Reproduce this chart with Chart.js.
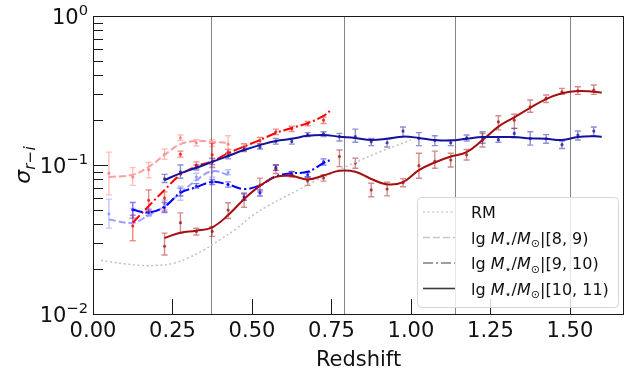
<!DOCTYPE html>
<html>
<head>
<meta charset="utf-8">
<script src="https://cdn.jsdelivr.net/npm/chart.js@4.4.1/dist/chart.umd.min.js"></script>
<style>
  html, body { margin: 0; padding: 0; background: #fff; }
  #wrap { width: 638px; height: 375px; }
</style>
</head>
<body>
<div id="wrap"><canvas id="c" width="638" height="375"></canvas></div>
<script>
// ---- redshift bins ----
const zBinsLow  = [0.05, 0.125, 0.175, 0.225, 0.275, 0.325, 0.375, 0.425];
const zBinsMid  = [0.125, 0.175, 0.225, 0.275, 0.325, 0.375, 0.425, 0.475, 0.525, 0.575, 0.625, 0.675, 0.725];
const zBinsHigh = [0.225, 0.275, 0.325, 0.375, 0.425, 0.475, 0.525, 0.575, 0.625, 0.675, 0.725,
                   0.775, 0.825, 0.875, 0.925, 0.975, 1.025, 1.075, 1.125, 1.175, 1.225,
                   1.275, 1.325, 1.375, 1.425, 1.475, 1.525, 1.575];

// ---- red sequence: lg M in [8,9) ----
const redLow      = [0.088, 0.083, 0.093, 0.118, 0.152, 0.141, 0.140, 0.138];
const redLowLo    = [0.063, 0.073, 0.082, 0.109, 0.146, 0.134, 0.133, 0.120];
const redLowHi    = [0.122, 0.096, 0.104, 0.128, 0.159, 0.148, 0.148, 0.157];
const redLowFit   = [0.083, 0.086, 0.097, 0.117, 0.138, 0.145, 0.143, 0.141];

// ---- blue cloud: lg M in [8,9) ----
const blueLow     = [0.047, 0.046, 0.048, 0.054, 0.065, 0.083, 0.090, 0.089];
const blueLowLo   = [0.0377, 0.041, 0.045, 0.050, 0.058, 0.079, 0.083, 0.086];
const blueLowHi   = [0.059, 0.051, 0.051, 0.058, 0.072, 0.088, 0.098, 0.093];
const blueLowFit  = [0.043, 0.041, 0.046, 0.053, 0.065, 0.079, 0.091, 0.086];

// ---- red sequence: lg M in [9,10) ----
const redMid      = [0.039, 0.058, 0.060, 0.118, 0.100, 0.117, 0.122, 0.132, 0.146, 0.167, 0.175, 0.189, 0.200];
const redMidLo    = [0.031, 0.049, 0.049, 0.113, 0.095, 0.096, 0.117, 0.125, 0.139, 0.160, 0.168, 0.183, 0.190];
const redMidHi    = [0.046, 0.068, 0.066, 0.124, 0.105, 0.140, 0.127, 0.139, 0.153, 0.174, 0.182, 0.196, 0.210];
const zFitMid     = [0.125, 0.175, 0.225, 0.275, 0.325, 0.375, 0.425, 0.475, 0.525, 0.575, 0.625, 0.675, 0.725, 0.75];
const redMidFit   = [0.041, 0.053, 0.068, 0.086, 0.098, 0.106, 0.120, 0.133, 0.147, 0.164, 0.177, 0.191, 0.214, 0.236];

// ---- blue cloud: lg M in [9,10) ----
const blueMid     = [0.050, 0.048, 0.052, 0.066, 0.072, 0.077, 0.074, 0.061, 0.065, 0.096, 0.087, 0.086, 0.105];
const blueMidLo   = [0.044, 0.046, 0.048, 0.062, 0.070, 0.074, 0.071, 0.058, 0.062, 0.092, 0.085, 0.083, 0.100];
const blueMidHi   = [0.056, 0.050, 0.056, 0.070, 0.075, 0.080, 0.077, 0.064, 0.068, 0.100, 0.090, 0.089, 0.110];
const blueMidFit  = [0.050, 0.048, 0.0525, 0.065, 0.071, 0.077, 0.074, 0.069, 0.073, 0.084, 0.088, 0.090, 0.103, 0.109];

// ---- red sequence: lg M in [10,11) ----
const redHigh     = [0.0285, 0.041, 0.0358, 0.0358, 0.0499, 0.059, 0.0734, 0.0935, 0.0866, 0.0782, 0.0818,
                     0.114, 0.103, 0.068, 0.069, 0.076, 0.099, 0.106, 0.108, 0.117, 0.147,
                     0.195, 0.200, 0.246, 0.280, 0.310, 0.314, 0.318];
const redHighLo   = [0.0249, 0.0349, 0.0339, 0.0332, 0.0437, 0.052, 0.066, 0.0877, 0.083, 0.073, 0.078,
                     0.0975, 0.095, 0.0612, 0.0621, 0.0714, 0.0814, 0.095, 0.097, 0.108, 0.132,
                     0.172, 0.176, 0.226, 0.263, 0.298, 0.298, 0.298];
const redHighHi   = [0.0349, 0.0477, 0.0376, 0.0385, 0.0558, 0.065, 0.0816, 0.100, 0.0905, 0.083, 0.086,
                     0.126, 0.111, 0.0755, 0.0766, 0.081, 0.120, 0.124, 0.120, 0.127, 0.163,
                     0.214, 0.219, 0.273, 0.295, 0.327, 0.335, 0.344];
const zFitHigh    = [0.225, 0.275, 0.325, 0.375, 0.425, 0.475, 0.525, 0.575, 0.625, 0.675, 0.725,
                     0.775, 0.825, 0.875, 0.925, 0.975, 1.025, 1.075, 1.125, 1.175, 1.225,
                     1.275, 1.325, 1.375, 1.425, 1.475, 1.525, 1.575, 1.6];
const redHighFit  = [0.0324, 0.0351, 0.0362, 0.0382, 0.0461, 0.059, 0.0724, 0.0832, 0.0845, 0.080, 0.085,
                     0.0915, 0.090, 0.0806, 0.0741, 0.0768, 0.0924, 0.104, 0.114, 0.122, 0.147,
                     0.181, 0.209, 0.242, 0.277, 0.303, 0.314, 0.310, 0.307];

// ---- blue cloud: lg M in [10,11) ----
const blueHigh    = [0.0807, 0.090, 0.0966, 0.105, 0.115, 0.127, 0.132, 0.144, 0.144, 0.160, 0.162,
                     0.155, 0.155, 0.143, 0.141, 0.169, 0.151, 0.146, 0.141, 0.152, 0.153,
                     0.148, 0.163, 0.150, 0.150, 0.137, 0.159, 0.169];
const blueHighLo  = [0.0763, 0.0815, 0.0925, 0.101, 0.110, 0.123, 0.128, 0.138, 0.138, 0.155, 0.155,
                     0.145, 0.142, 0.135, 0.132, 0.155, 0.135, 0.135, 0.135, 0.145, 0.140,
                     0.142, 0.152, 0.136, 0.140, 0.129, 0.147, 0.157];
const blueHighHi  = [0.0865, 0.100, 0.100, 0.111, 0.120, 0.132, 0.138, 0.151, 0.151, 0.165, 0.167,
                     0.163, 0.174, 0.151, 0.151, 0.180, 0.165, 0.157, 0.147, 0.159, 0.167,
                     0.155, 0.176, 0.167, 0.160, 0.145, 0.169, 0.180];
const blueHighFit = [0.0793, 0.0879, 0.0958, 0.105, 0.115, 0.126, 0.136, 0.145, 0.150, 0.157, 0.159,
                     0.155, 0.152, 0.147, 0.150, 0.155, 0.152, 0.147, 0.146, 0.150, 0.154,
                     0.154, 0.154, 0.151, 0.150, 0.147, 0.154, 0.156, 0.155];

// ---- red-sequence model scatter (RM) ----
const zRM  = [0.025, 0.05, 0.1, 0.15, 0.2, 0.25, 0.3, 0.35, 0.4, 0.45, 0.5, 0.55, 0.6, 0.65, 0.7, 0.75, 0.8, 0.85, 0.9, 0.95, 1.0];
const sigRM = [0.0229, 0.0225, 0.0217, 0.0212, 0.0212, 0.0218, 0.0238, 0.0270, 0.0316, 0.0372, 0.0455,
               0.0532, 0.0606, 0.0688, 0.0786, 0.0876, 0.0984, 0.110, 0.122, 0.134, 0.147];

// ---- filter-transition redshifts, axis ticks and legend text ----
const zEdges   = [0.37, 0.79, 1.14, 1.50];
const xTicks   = [0, 0.25, 0.5, 0.75, 1.0, 1.25, 1.5];
const yDecades = [0.01, 0.1, 1];
const massBins = ['[8, 9)', '[9, 10)', '[10, 11)'];

const FONT = '"DejaVu Sans", "Liberation Sans", sans-serif';
const pts = (xs, ys) => xs.map((x, i) => ({ x, y: ys[i] }));

function fitLine(xs, ys, color, dash) {
  return { type: 'line', data: pts(xs, ys), borderColor: color, borderWidth: 2,
           borderDash: dash, pointRadius: 0, tension: 0.4, fill: false };
}
function measured(xs, ys, lo, hi, color, errColor) {
  return { type: 'scatter', data: pts(xs, ys), errLo: lo, errHi: hi, errColor,
           pointRadius: 1.6, pointBorderWidth: 0, backgroundColor: color, showLine: false };
}

const DASH = [7, 3], DASHDOT = [10, 3, 2, 3], DOT = [2, 2.6];

const datasets = [
  fitLine(zFitHigh, blueHighFit, '#13139b', []),
  fitLine(zFitHigh, redHighFit, '#a50f0f', []),
  fitLine(zFitMid, blueMidFit, '#0000ff', DASHDOT),
  fitLine(zFitMid, redMidFit, '#ff0000', DASHDOT),
  fitLine(zBinsLow, blueLowFit, '#9e9eff', DASH),
  fitLine(zBinsLow, redLowFit, '#ff9e9e', DASH),
  Object.assign(fitLine(zRM, sigRM, '#c4c4c4', DOT), { borderWidth: 1.6 }),
  measured(zBinsHigh, blueHigh, blueHighLo, blueHighHi, 'rgba(20,20,160,0.75)', 'rgba(30,30,170,0.5)'),
  measured(zBinsHigh, redHigh, redHighLo, redHighHi, 'rgba(160,20,20,0.75)', 'rgba(170,25,25,0.5)'),
  measured(zBinsMid, blueMid, blueMidLo, blueMidHi, 'rgba(0,0,230,0.7)', 'rgba(0,0,230,0.5)'),
  measured(zBinsMid, redMid, redMidLo, redMidHi, 'rgba(230,0,0,0.7)', 'rgba(230,20,20,0.5)'),
  measured(zBinsLow, blueLow, blueLowLo, blueLowHi, 'rgba(90,90,255,0.5)', 'rgba(60,60,255,0.3)'),
  measured(zBinsLow, redLow, redLowLo, redLowHi, 'rgba(255,60,60,0.5)', 'rgba(255,40,40,0.3)')
];

// small rich-text helper: parts of {t, it, sub, sup}
function partFont(p, size) {
  const s = (p.sub || p.sup) ? size * 0.7 : size;
  return (p.it ? 'italic ' : '') + s.toFixed(1) + 'px ' + FONT;
}
function richWidth(ctx, parts, size) {
  let w = 0;
  parts.forEach(p => { ctx.font = partFont(p, size); w += ctx.measureText(p.t).width; });
  return w;
}
function drawRich(ctx, parts, x, y, size) {
  ctx.textBaseline = 'alphabetic';
  ctx.textAlign = 'left';
  parts.forEach(p => {
    ctx.font = partFont(p, size);
    const dy = p.sub ? size * 0.22 : (p.sup ? -size * 0.42 : 0);
    ctx.fillText(p.t, x, y + dy);
    x += ctx.measureText(p.t).width;
  });
  return x;
}

const underlay = {
  id: 'underlay',
  beforeDatasetsDraw(chart) {
    const { ctx, chartArea: a, scales: { x, y } } = chart;
    ctx.save();
    // filter transition markers
    ctx.strokeStyle = '#858585';
    ctx.lineWidth = 1;
    zEdges.forEach(z => {
      const px = Math.round(x.getPixelForValue(z)) + 0.5;
      ctx.beginPath(); ctx.moveTo(px, a.top); ctx.lineTo(px, a.bottom); ctx.stroke();
    });
    // error bars with caps
    chart.data.datasets.forEach(ds => {
      if (!ds.errLo) return;
      ctx.strokeStyle = ds.errColor;
      ctx.lineWidth = 1.4;
      ds.data.forEach((p, i) => {
        const px = x.getPixelForValue(p.x);
        const yl = y.getPixelForValue(ds.errLo[i]);
        const yh = y.getPixelForValue(ds.errHi[i]);
        ctx.beginPath();
        ctx.moveTo(px, yl); ctx.lineTo(px, yh);
        ctx.moveTo(px - 3, yl); ctx.lineTo(px + 3, yl);
        ctx.moveTo(px - 3, yh); ctx.lineTo(px + 3, yh);
        ctx.stroke();
      });
    });
    ctx.restore();
  }
};

const frame = {
  id: 'frame',
  afterDraw(chart) {
    const { ctx, chartArea: a, scales: { x, y } } = chart;
    ctx.save();
    ctx.strokeStyle = '#1a1a1a';
    ctx.lineWidth = 1;
    // inward ticks
    ctx.beginPath();
    xTicks.forEach(v => {
      const px = Math.round(x.getPixelForValue(v)) + 0.5;
      ctx.moveTo(px, a.bottom); ctx.lineTo(px, a.bottom - 15);
    });
    yDecades.forEach((d, k) => {
      const py = Math.round(y.getPixelForValue(d)) + 0.5;
      ctx.moveTo(a.left, py); ctx.lineTo(a.left + 15, py);
      if (k < yDecades.length - 1) {
        for (let m = 2; m <= 9; m++) {
          const qy = Math.round(y.getPixelForValue(d * m)) + 0.5;
          ctx.moveTo(a.left, qy); ctx.lineTo(a.left + 10, qy);
        }
      }
    });
    ctx.stroke();
    // spines
    ctx.strokeRect(a.left + 0.5, a.top + 0.5, a.right - a.left - 1, a.bottom - a.top);

    // tick labels
    ctx.fillStyle = '#111';
    ctx.font = '21px ' + FONT;
    ctx.textAlign = 'center';
    ctx.textBaseline = 'alphabetic';
    xTicks.forEach(v => ctx.fillText(v.toFixed(2), x.getPixelForValue(v), 337));
    yDecades.forEach(d => {
      const e = Math.round(Math.log10(d));
      const parts = [{ t: '10' }, { t: String(e).replace('-', '\u2212'), sup: true }];
      const w = richWidth(ctx, parts, 21);
      drawRich(ctx, parts, 88 - w, y.getPixelForValue(d) + 7.7, 21);
    });

    // axis titles
    ctx.font = '21px ' + FONT;
    ctx.textAlign = 'center';
    ctx.fillText('Redshift', (a.left + a.right) / 2, 366);
    const yt = [{ t: '\u03c3', it: true }, { t: 'r', it: true, sub: true }, { t: '\u2212', sub: true }, { t: 'i', it: true, sub: true }];
    ctx.save();
    ctx.translate(30, 165);
    ctx.rotate(-Math.PI / 2);
    const tw = richWidth(ctx, yt, 22);
    drawRich(ctx, yt, -tw / 2, 0, 22);
    ctx.restore();

    // legend
    const L = { x: 417, y: 197, w: 201, h: 110, r: 4 };
    ctx.beginPath();
    ctx.roundRect(L.x + 0.5, L.y + 0.5, L.w, L.h, L.r);
    ctx.fillStyle = 'rgba(255,255,255,0.8)';
    ctx.fill();
    ctx.strokeStyle = '#d6d6d6';
    ctx.stroke();
    const entries = [
      { color: '#d0d0d0', dash: DOT, width: 1.5, parts: [{ t: 'RM' }] }
    ];
    const sampleStyles = [
      { color: '#c8c8c8', dash: DASH, width: 1.6 },
      { color: '#7f7f7f', dash: DASHDOT, width: 1.6 },
      { color: '#3a3a3a', dash: [], width: 1.6 }
    ];
    massBins.forEach((b, i) => entries.push(Object.assign({
      parts: [{ t: 'lg ' }, { t: 'M', it: true }, { t: '\u22c6', sub: true }, { t: '/' },
              { t: 'M', it: true }, { t: '\u2299', sub: true }, { t: '|' + b }]
    }, sampleStyles[i])));
    entries.forEach((en, i) => {
      const ry = 212 + i * 25.5;
      ctx.beginPath();
      ctx.setLineDash(en.dash);
      ctx.strokeStyle = en.color;
      ctx.lineWidth = en.width;
      ctx.moveTo(423, ry); ctx.lineTo(455, ry);
      ctx.stroke();
      ctx.setLineDash([]);
      ctx.fillStyle = '#111';
      drawRich(ctx, en.parts, 471, ry + 6, 16);
    });
    ctx.restore();
  }
};

new Chart(document.getElementById('c'), {
  type: 'scatter',
  data: { datasets },
  options: {
    responsive: false,
    animation: false,
    devicePixelRatio: 1,
    layout: { padding: { left: 0, right: 14, top: 16, bottom: 0 } },
    plugins: { legend: { display: false }, tooltip: { enabled: false } },
    scales: {
      x: { type: 'linear', min: 0, max: 1.67,
           grid: { display: false }, border: { display: false },
           ticks: { display: false }, afterFit: s => { s.height = 61; } },
      y: { type: 'logarithmic', min: 0.01, max: 1,
           grid: { display: false }, border: { display: false },
           ticks: { display: false }, afterFit: s => { s.width = 93; } }
    }
  },
  plugins: [underlay, frame]
});
</script>
</body>
</html>
